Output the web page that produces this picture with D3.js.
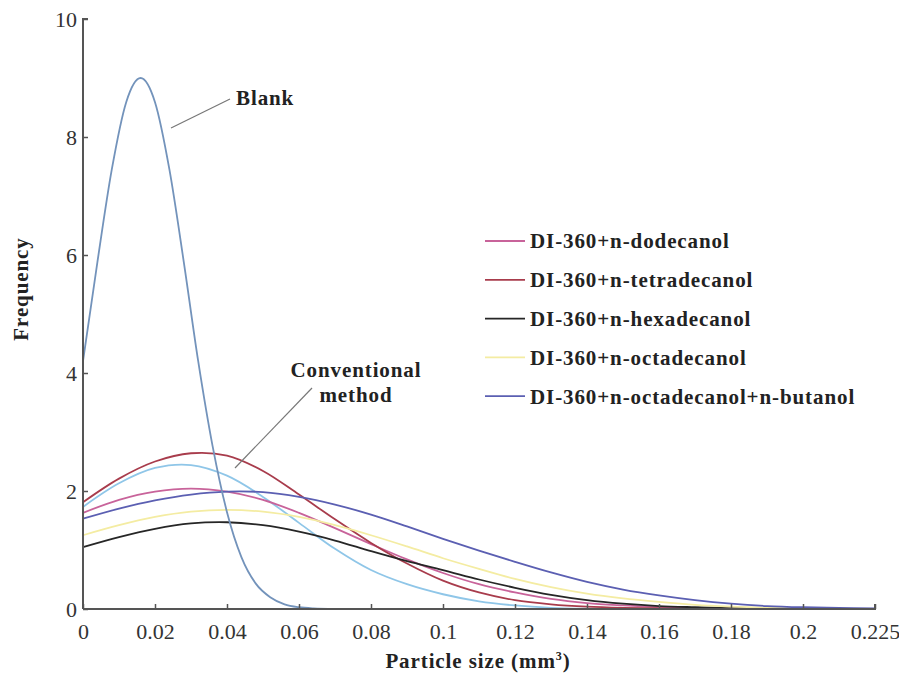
<!DOCTYPE html>
<html>

<head>
	<title>Particle size distribution</title>
	<style type="text/css">
		body {
			margin: 0;
			background: #fff;
		}
		text {
			font-family: "Liberation Serif", "Times New Roman", serif;
		}
		.tick-label {
			font-size: 22px;
			fill: #333;
		}
		.bold {
			font-weight: bold;
			fill: #222;
			font-size: 21px;
			letter-spacing: 0.9px;
		}
	</style>
</head>

<body>
	<svg id="chart"></svg>

	<script src="https://cdnjs.cloudflare.com/ajax/libs/d3/7.8.5/d3.min.js"></script>
	<script type="text/javascript">
		var sizes = [0, 0.01, 0.02, 0.03, 0.04, 0.05, 0.06, 0.07, 0.08, 0.09, 0.1,
			0.11, 0.12, 0.13, 0.14, 0.15, 0.16, 0.17, 0.18, 0.19, 0.2, 0.21, 0.22];
		var dodecanol = [1.63, 1.85, 1.99, 2.04, 1.99, 1.85, 1.63, 1.37, 1.10, 0.84, 0.61,
			0.42, 0.28, 0.17, 0.10, 0.06, 0.03, 0.015, 0.01, 0, 0, 0, 0];
		var tetradecanol = [1.81, 2.21, 2.50, 2.64, 2.60, 2.34, 1.94, 1.52, 1.12, 0.77, 0.48,
			0.28, 0.15, 0.08, 0.04, 0.02, 0.01, 0, 0, 0, 0, 0, 0];
		var hexadecanol = [1.05, 1.22, 1.36, 1.45, 1.47, 1.42, 1.31, 1.16, 0.98, 0.81, 0.66,
			0.50, 0.36, 0.24, 0.15, 0.09, 0.05, 0.03, 0.015, 0.01, 0, 0, 0];
		var octadecanol = [1.25, 1.42, 1.56, 1.65, 1.68, 1.65, 1.56, 1.42, 1.25, 1.06, 0.86,
			0.68, 0.51, 0.37, 0.26, 0.18, 0.12, 0.07, 0.04, 0.02, 0.01, 0, 0];
		var butanol = [1.53, 1.70, 1.84, 1.94, 1.99, 1.98, 1.90, 1.77, 1.60, 1.40, 1.19,
			0.99, 0.80, 0.62, 0.46, 0.33, 0.23, 0.15, 0.09, 0.05, 0.03, 0.02, 0.01];
		var conventional = [1.73, 2.13, 2.39, 2.44, 2.26, 1.90, 1.46, 1.02, 0.66, 0.42, 0.25,
			0.13, 0.06, 0.02, 0.005, 0, 0, 0, 0, 0, 0, 0, 0];

		var blankSizes = [0, 0.004, 0.008, 0.012, 0.016, 0.02, 0.024, 0.028, 0.032, 0.036,
			0.04, 0.044, 0.048, 0.052, 0.056, 0.06, 0.064, 0.07];
		var blank = [4.2, 5.88, 7.45, 8.59, 9.0, 8.59, 7.45, 5.88, 4.2, 2.76,
			1.64, 0.88, 0.43, 0.2, 0.08, 0.03, 0.01, 0];

		var xTicks = [0, 0.02, 0.04, 0.06, 0.08, 0.1, 0.12, 0.14, 0.16, 0.18, 0.2, 0.22];
		var xTickLabels = ['0', '0.02', '0.04', '0.06', '0.08', '0.1', '0.12', '0.14', '0.16', '0.18', '0.2', '0.225'];
		var yTicks = [0, 2, 4, 6, 8, 10];

		var seriesNames = ['DI-360+n-dodecanol', 'DI-360+n-tetradecanol', 'DI-360+n-hexadecanol',
			'DI-360+n-octadecanol', 'DI-360+n-octadecanol+n-butanol'];
		var seriesValues = [dodecanol, tetradecanol, hexadecanol, octadecanol, butanol];
		var seriesColors = ['#c8639a', '#a83c4c', '#262626', '#f4eca2', '#5b5fb2'];

		var width = 899;
		var height = 678;

		var svg = d3.select('#chart')
			.attr('width', width)
			.attr('height', height);

		var x = d3.scaleLinear().domain([0, 0.22]).range([83, 875]);
		var y = d3.scaleLinear().domain([0, 10]).range([609, 19]);

		function toPoints(xs, ys) {
			return xs.map(function(v, i) {
				return [v, ys[i]];
			});
		}

		var line = d3.line()
			.x(function(d) { return x(d[0]); })
			.y(function(d) { return Math.min(y(d[1]), y(0)); })
			.curve(d3.curveCatmullRom.alpha(0.5));

		// the blank peak is steep, monotone keeps it smooth
		var blankLine = d3.line()
			.x(function(d) { return x(d[0]); })
			.y(function(d) { return y(d[1]); })
			.curve(d3.curveMonotoneX);

		// curves
		var curves = svg.append('g').attr('fill', 'none').attr('stroke-width', 1.8);

		curves.append('path')
			.attr('d', line(toPoints(sizes, conventional)))
			.attr('stroke', '#8fc6e8');

		seriesValues.forEach(function(vals, i) {
			curves.append('path')
				.attr('d', line(toPoints(sizes, vals)))
				.attr('stroke', seriesColors[i]);
		});

		curves.append('path')
			.attr('d', blankLine(toPoints(blankSizes, blank)))
			.attr('stroke', '#7393bb');

		// axes
		var xAxis = d3.axisBottom(x)
			.tickValues(xTicks)
			.tickSize(-5)
			.tickPadding(14)
			.tickFormat(function(d, i) { return xTickLabels[i]; });

		var yAxis = d3.axisLeft(y)
			.tickValues(yTicks)
			.tickSize(-5)
			.tickPadding(6);

		var gx = svg.append('g')
			.attr('transform', 'translate(0,' + y(0) + ')')
			.call(xAxis);
		var gy = svg.append('g')
			.attr('transform', 'translate(' + x(0) + ',0)')
			.call(yAxis);

		[gx, gy].forEach(function(g) {
			g.select('.domain').attr('stroke', '#555').attr('stroke-width', 2);
			g.selectAll('.tick line').attr('stroke', '#555').attr('stroke-width', 1.5);
			g.selectAll('.tick text')
				.attr('class', 'tick-label')
				.attr('font-family', null)
				.attr('font-size', null);
		});
		gx.select('.domain').attr('d', 'M' + x(0) + ',0H' + x(0.22) + 'V-5');
		gy.select('.domain').attr('d', 'M0,' + y(0) + 'V' + y(10) + 'H5');

		// axis titles
		var xTitle = svg.append('text')
			.attr('class', 'bold')
			.attr('x', 478)
			.attr('y', 668)
			.attr('text-anchor', 'middle');
		xTitle.append('tspan').text('Particle size (mm');
		xTitle.append('tspan').attr('dy', -8).style('font-size', '12px').text('3');
		xTitle.append('tspan').attr('dy', 8).text(')');

		svg.append('text')
			.attr('class', 'bold')
			.attr('transform', 'translate(28,289) rotate(-90)')
			.attr('text-anchor', 'middle')
			.text('Frequency');

		// legend
		var legend = svg.append('g').attr('transform', 'translate(485,241)');
		var rows = legend.selectAll('g').data(seriesNames)
			.enter()
			.append('g')
			.attr('transform', function(d, i) {
				return 'translate(0,' + i * 38.8 + ')';
			});
		rows.append('line')
			.attr('x1', 0)
			.attr('x2', 40)
			.attr('stroke-width', 1.8)
			.attr('stroke', function(d, i) { return seriesColors[i]; });
		rows.append('text')
			.attr('class', 'bold')
			.attr('x', 45)
			.attr('dy', '0.35em')
			.text(function(d) { return d; });

		// annotations
		svg.append('line')
			.attr('x1', 171).attr('y1', 128)
			.attr('x2', 230).attr('y2', 99)
			.attr('stroke', '#777').attr('stroke-width', 1.2);
		svg.append('text')
			.attr('class', 'bold')
			.attr('x', 236)
			.attr('y', 105)
			.text('Blank');

		svg.append('line')
			.attr('x1', 235).attr('y1', 468)
			.attr('x2', 312).attr('y2', 388)
			.attr('stroke', '#777').attr('stroke-width', 1.2);
		var conv = svg.append('text')
			.attr('class', 'bold')
			.attr('text-anchor', 'middle');
		conv.append('tspan').attr('x', 356).attr('y', 377).text('Conventional');
		conv.append('tspan').attr('x', 356).attr('y', 402).text('method');
	</script>
</body>

</html>
